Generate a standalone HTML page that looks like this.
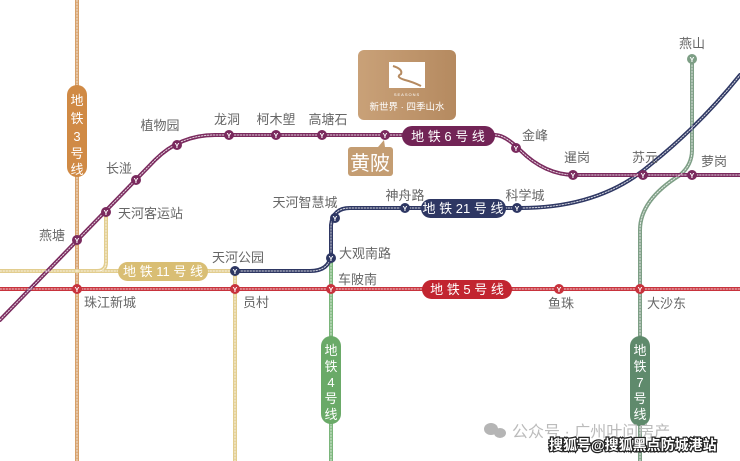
<!DOCTYPE html>
<html><head><meta charset="utf-8"><style>
html,body{margin:0;padding:0;background:#fff;}
svg{display:block;}
text{font-family:"Liberation Sans","Noto Sans CJK SC",sans-serif;}
</style></head><body>
<svg width="740" height="461" viewBox="0 0 740 461" xmlns="http://www.w3.org/2000/svg">
<defs>
<g id="st"><circle r="5" fill="currentColor"/><text y="3" font-size="7" fill="#fff" text-anchor="middle" font-weight="bold">Y</text></g>
</defs>
<g fill="none" stroke-linecap="round">
<!-- line 3 -->
<path d="M77 0 V461" stroke="#d6a06a" stroke-width="4"/>
<!-- line 11 -->
<path d="M0 271 H235 M106 212 V262 Q106 271 97 271" stroke="#e2cd8e" stroke-width="4"/>
<path d="M235 271 V461" stroke="#e2cd8e" stroke-width="4"/>
<!-- line 4 -->
<path d="M331 258 V461" stroke="#7ab57a" stroke-width="4"/>
<!-- line 7 -->
<path d="M692 59 V150 Q692 165 680 175 Q640 200 640 230 V461" stroke="#7d9e85" stroke-width="4"/>
<!-- line 5 -->
<path d="M0 289 H740" stroke="#c8333d" stroke-width="4"/>
<!-- line 21 -->
<path d="M235 271 H310 Q329 271 331 255 V225 Q333 208 350 208 H520 Q600 208 650 165 Q700 125 740 75" stroke="#2e3763" stroke-width="4"/>
<!-- line 6 -->
<path d="M0 320 L155 160 Q180 135 215 135 H495 Q505 135 520 150 Q545 175 575 175 H740" stroke="#7a2a5e" stroke-width="4"/>
<!-- dotted insides -->
<g stroke="#fff" stroke-width="1" stroke-dasharray="1.5 1.5" opacity="0.8">
<path d="M77 0 V461"/><path d="M0 271 H235 M106 212 V262 Q106 271 97 271"/><path d="M235 271 V461"/><path d="M331 258 V461"/>
<path d="M692 59 V150 Q692 165 680 175 Q640 200 640 230 V461"/><path d="M0 289 H740"/>
<path d="M235 271 H310 Q329 271 331 255 V225 Q333 208 350 208 H520 Q600 208 650 165 Q700 125 740 75"/>
<path d="M0 320 L155 160 Q180 135 215 135 H495 Q505 135 520 150 Q545 175 575 175 H740"/>
</g>
</g>
<!-- stations -->
<g color="#7a2a5e">
<use href="#st" x="77" y="240"/><use href="#st" x="106" y="212"/><use href="#st" x="136" y="180"/><use href="#st" x="177" y="145"/>
<use href="#st" x="229" y="135"/><use href="#st" x="276" y="135"/><use href="#st" x="322" y="135"/><use href="#st" x="385" y="135"/>
<use href="#st" x="516" y="148"/><use href="#st" x="573" y="175"/><use href="#st" x="643" y="175"/><use href="#st" x="692" y="175"/>
</g>
<g color="#2e3763"><use href="#st" x="235" y="271"/><use href="#st" x="331" y="258"/><use href="#st" x="335" y="218"/><use href="#st" x="405" y="208"/><use href="#st" x="517" y="208"/></g>
<g color="#c8333d"><use href="#st" x="77" y="289"/><use href="#st" x="235" y="289"/><use href="#st" x="331" y="289"/><use href="#st" x="559" y="289"/><use href="#st" x="640" y="289"/></g>
<g color="#7d9e85"><use href="#st" x="692" y="59"/></g>
<!-- pills -->
<rect x="67" y="85" width="20" height="92" rx="10" fill="#d08a45"/>
<text fill="#fff" font-size="13" text-anchor="middle"><tspan x="77" y="105">地</tspan><tspan x="77" y="123">铁</tspan><tspan x="77" y="141">3</tspan><tspan x="77" y="158">号</tspan><tspan x="77" y="174">线</tspan></text>
<rect x="118" y="262" width="90" height="19" rx="9.5" fill="#d9be74"/>
<text x="163" y="276" fill="#fff" font-size="13" text-anchor="middle">地 铁 11 号 线</text>
<rect x="422" y="280" width="90" height="19" rx="9.5" fill="#c22530"/>
<text x="467" y="294" fill="#fff" font-size="13" text-anchor="middle">地 铁 5 号 线</text>
<rect x="402" y="126" width="93" height="20" rx="10" fill="#722456"/>
<text x="448" y="141" fill="#fff" font-size="13" text-anchor="middle">地 铁 6 号 线</text>
<rect x="421" y="199" width="85" height="19" rx="9.5" fill="#2e3763"/>
<text x="463" y="213" fill="#fff" font-size="13" text-anchor="middle">地 铁 21 号 线</text>
<rect x="321" y="336" width="20" height="88" rx="10" fill="#6aaa68"/>
<text fill="#fff" font-size="13" text-anchor="middle"><tspan x="331" y="355">地</tspan><tspan x="331" y="371">铁</tspan><tspan x="331" y="387">4</tspan><tspan x="331" y="403">号</tspan><tspan x="331" y="419">线</tspan></text>
<rect x="630" y="336" width="20" height="90" rx="10" fill="#5f8a6c"/>
<text fill="#fff" font-size="13" text-anchor="middle"><tspan x="640" y="355">地</tspan><tspan x="640" y="371">铁</tspan><tspan x="640" y="387">7</tspan><tspan x="640" y="403">号</tspan><tspan x="640" y="419">线</tspan></text>
<!-- logo -->
<defs><linearGradient id="g" x1="0" x2="1"><stop offset="0" stop-color="#c9a178"/><stop offset="1" stop-color="#b58a60"/></linearGradient></defs>
<rect x="358" y="50" width="98" height="70" rx="6" fill="url(#g)"/>
<rect x="389" y="62" width="36" height="26" fill="#fff"/>
<path d="M393 66 q10 3 8 8 q-6 3 4 6 q8 2 16 6" stroke="#b58a60" stroke-width="2" fill="none"/>
<text x="407" y="96" fill="#fff" font-size="4" text-anchor="middle" letter-spacing="1">SEASONS</text>
<text x="407" y="110" fill="#fff" font-size="9.5" text-anchor="middle">新世界 · 四季山水</text>
<!-- 黄陂 label -->
<rect x="348" y="147" width="45" height="29" rx="3" fill="#c49d72"/>
<path d="M378 147 L384 140 L385 147Z" fill="#c49d72"/>
<text x="370" y="170" fill="#fff" font-size="20" text-anchor="middle">黄陂</text>
<!-- station labels -->
<g fill="#666" font-size="13">
<text x="160" y="130" text-anchor="middle">植物园</text>
<text x="227" y="124" text-anchor="middle">龙洞</text>
<text x="276" y="124" text-anchor="middle">柯木塱</text>
<text x="328" y="124" text-anchor="middle">高塘石</text>
<text x="119" y="173" text-anchor="middle">长湴</text>
<text x="118" y="218">天河客运站</text>
<text x="52" y="240" text-anchor="middle">燕塘</text>
<text x="84" y="307">珠江新城</text>
<text x="243" y="307">员村</text>
<text x="238" y="262" text-anchor="middle">天河公园</text>
<text x="305" y="207" text-anchor="middle">天河智慧城</text>
<text x="339" y="258">大观南路</text>
<text x="338" y="284">车陂南</text>
<text x="405" y="200" text-anchor="middle">神舟路</text>
<text x="525" y="200" text-anchor="middle">科学城</text>
<text x="535" y="140" text-anchor="middle">金峰</text>
<text x="577" y="162" text-anchor="middle">暹岗</text>
<text x="645" y="162" text-anchor="middle">苏元</text>
<text x="714" y="166" text-anchor="middle">萝岗</text>
<text x="692" y="48" text-anchor="middle">燕山</text>
<text x="561" y="308" text-anchor="middle">鱼珠</text>
<text x="647" y="308">大沙东</text>
</g>
<!-- watermark -->
<g fill="#b5b5b5"><ellipse cx="491" cy="429" rx="7" ry="6"/><ellipse cx="500" cy="433" rx="6" ry="5"/></g>
<text x="512" y="437" fill="#bbb" font-size="16">公众号 · 广州叶问房产</text>
<text x="549" y="450" fill="#fff" stroke="#222" stroke-width="2.5" paint-order="stroke" font-size="14" font-weight="bold">搜狐号@搜狐黑点防城港站</text>
</svg>
</body></html>
